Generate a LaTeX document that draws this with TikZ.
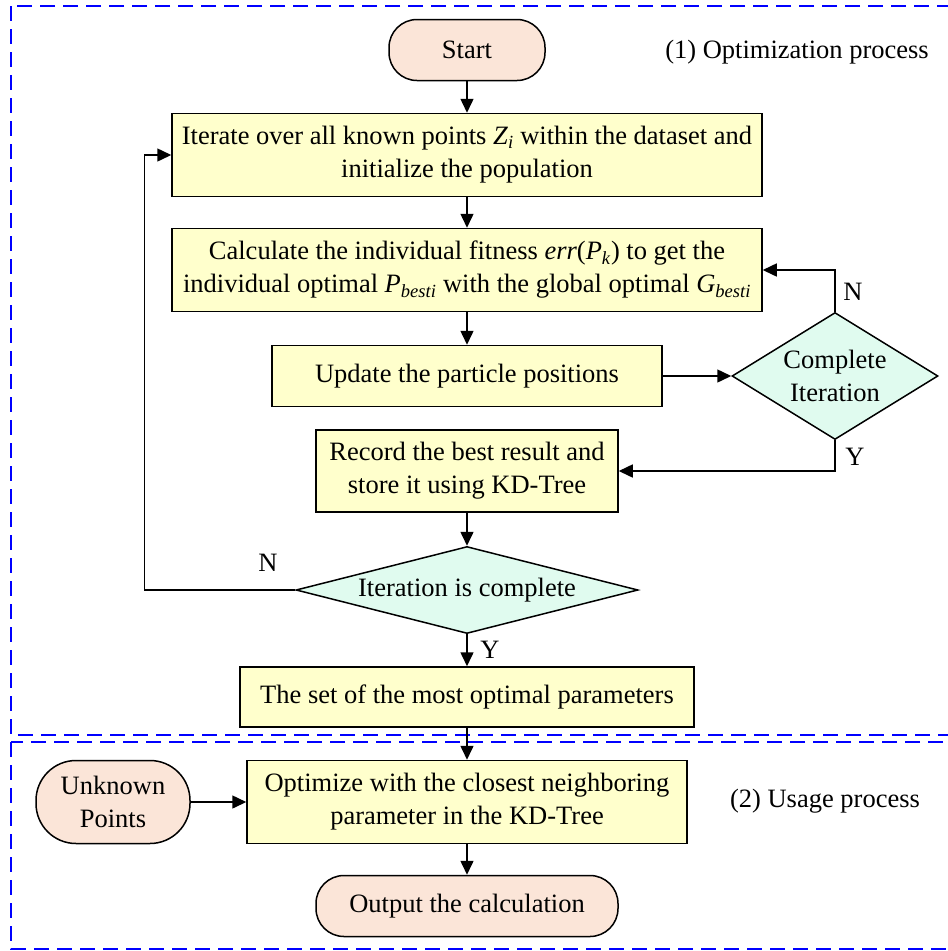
\documentclass[tikz,border=0pt]{standalone}
\usepackage{fontspec}
\setmainfont{Liberation Serif}
\usetikzlibrary{shapes.geometric,arrows.meta}
\definecolor{boxyellow}{HTML}{FFFFCC}
\definecolor{decgreen}{HTML}{E0FBEF}
\definecolor{termpeach}{HTML}{FBE5D8}
\newcommand{\itsub}[2]{\textit{#1}\textsubscript{\textit{#2}}}
\tikzset{
  proc/.style={draw, line width=1.5pt, fill=boxyellow, align=center, inner sep=0pt},
  term/.style={draw, line width=1.5pt, fill=termpeach, rounded corners=28pt, align=center, inner sep=0pt},
  dec/.style={draw, diamond, line width=1.5pt, fill=decgreen, align=center, inner sep=0pt},
  flow/.style={line width=1.5pt, -{Triangle[length=14pt,width=13pt]}},
  region/.style={draw=blue, line width=2pt, dash pattern=on 15pt off 8pt},
}
\begin{document}
\begin{tikzpicture}[x=1pt,y=-1pt,font=\fontsize{26.5}{33}\selectfont]
    \useasboundingbox (0,0) rectangle (948,951);
    % the two process regions
    \draw[region] (11,6) rectangle (960,735);
    \draw[region] (11,742) rectangle (960,949);
    \node at (797,52) {(1) Optimization process};
    \node at (825,801) {(2) Usage process};

    % optimization part
    \node[term, minimum width=156pt, minimum height=61pt] (start) at (467,50) {Start};
    \node[proc, minimum width=590pt, minimum height=83pt] (init) at (467,155)
        {Iterate over all known points \itsub{Z}{i} within the dataset and\\ initialize the population};
    \node[proc, minimum width=590pt, minimum height=83pt] (fit) at (467,270)
        {Calculate the individual fitness \textit{err}(\itsub{P}{k}) to get the\\ individual optimal \itsub{P}{besti} with the global optimal \itsub{G}{besti}};
    \node[proc, minimum width=390pt, minimum height=61pt] (upd) at (467,376) {Update the particle positions};
    \node[dec, minimum width=206pt, minimum height=127pt, shape aspect=1.62] (inner) at (835,376) {Complete\\ Iteration};
    \node[proc, minimum width=302pt, minimum height=82pt] (rec) at (467,471)
        {Record the best result and\\ store it using KD-Tree};
    \node[dec, minimum width=342pt, minimum height=87pt, shape aspect=3.9] (outer) at (467,590) {Iteration is complete};
    \node[proc, minimum width=454pt, minimum height=60pt] (best) at (467,697) {The set of the most optimal parameters};

    % usage part
    \node[term, minimum width=154pt, minimum height=83pt, rounded corners=40pt] (unk) at (113,802) {Unknown\\ Points};
    \node[proc, minimum width=440pt, minimum height=83pt] (opt) at (467,802)
        {Optimize with the closest neighboring\\ parameter in the KD-Tree};
    \node[term, minimum width=302pt, minimum height=61pt] (out) at (467,906) {Output the calculation};

    \draw[flow] (start) -- (init);
    \draw[flow] (init) -- (fit);
    \draw[flow] (fit) -- (upd);
    \draw[flow] (upd) -- (inner);
    \draw[flow] (inner.north) |- (fit.east);
    \draw[flow] (inner.south) |- (rec.east);
    \draw[flow] (rec) -- (outer);
    \draw[flow] (outer.west) -- ++(-151,0) |- (init.west);
    \draw[flow] (outer) -- (best);
    \draw[flow] (best) -- (opt);
    \draw[flow] (unk) -- (opt);
    \draw[flow] (opt) -- (out);

    \node at (853,292) {N};
    \node at (855,457) {Y};
    \node at (268,563) {N};
    \node at (490,650) {Y};
\end{tikzpicture}
\end{document}
